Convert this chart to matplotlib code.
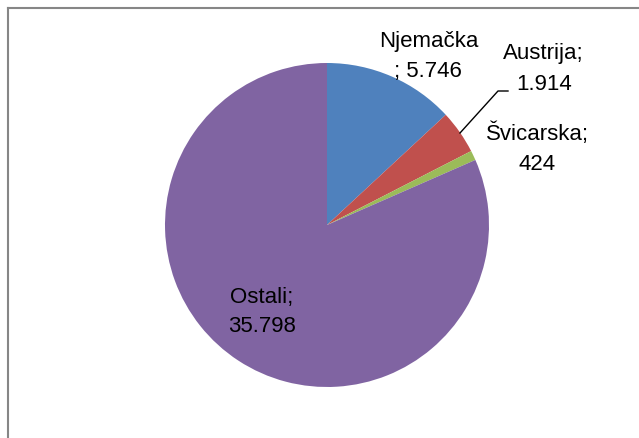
import matplotlib.pyplot as plt

plt.rcParams['font.family'] = ['Liberation Sans', 'DejaVu Sans']

countries = ['Njemačka', 'Austrija', 'Švicarska', 'Ostali']
values = [5746, 1914, 424, 35798]
value_labels = ['5.746', '1.914', '424', '35.798']
colors = ['#4F81BD', '#C0504D', '#9BBB59', '#8064A2']

W, H = 639, 438
fig = plt.figure(figsize=(W / 100, H / 100), dpi=100)

# chart border (runs off the right/bottom edge)
fig.add_artist(plt.Line2D([8 / W, 8 / W], [0, 1 - 8 / H], color='#868686', lw=1.5))
fig.add_artist(plt.Line2D([8 / W, 1], [1 - 8 / H, 1 - 8 / H], color='#868686', lw=1.5))

cx, cy, r = 327, 225, 162
ax = fig.add_axes([(cx - r) / W, (H - cy - r) / H, 2 * r / W, 2 * r / H])
ax.pie(values, colors=colors, startangle=90, counterclock=False, radius=1,
       wedgeprops=dict(linewidth=0))
ax.set_xlim(-1, 1)
ax.set_ylim(-1, 1)
ax.set_aspect('equal')
ax.axis('off')


def px(x, y):
    return x / W, 1 - y / H


fs = 16
fig.text(*px(429, 42), countries[0], ha='center', va='center', fontsize=fs)
fig.text(*px(428, 71), '; ' + value_labels[0], ha='center', va='center', fontsize=fs)
fig.text(*px(543, 53), countries[1] + ';', ha='center', va='center', fontsize=fs)
fig.text(*px(544, 84), value_labels[1], ha='center', va='center', fontsize=fs)
fig.add_artist(plt.Line2D([460 / W, 498 / W, 508 / W], [1 - 133 / H, 1 - 91 / H, 1 - 91 / H],
                          color='black', lw=1))
fig.text(*px(537, 134), countries[2] + ';', ha='center', va='center', fontsize=fs)
fig.text(*px(537, 165), value_labels[2], ha='center', va='center', fontsize=fs)
fig.text(*px(262, 297), countries[3] + ';', ha='center', va='center', fontsize=fs)
fig.text(*px(262, 327), value_labels[3], ha='center', va='center', fontsize=fs)

fig.savefig('out.png', dpi=100)
